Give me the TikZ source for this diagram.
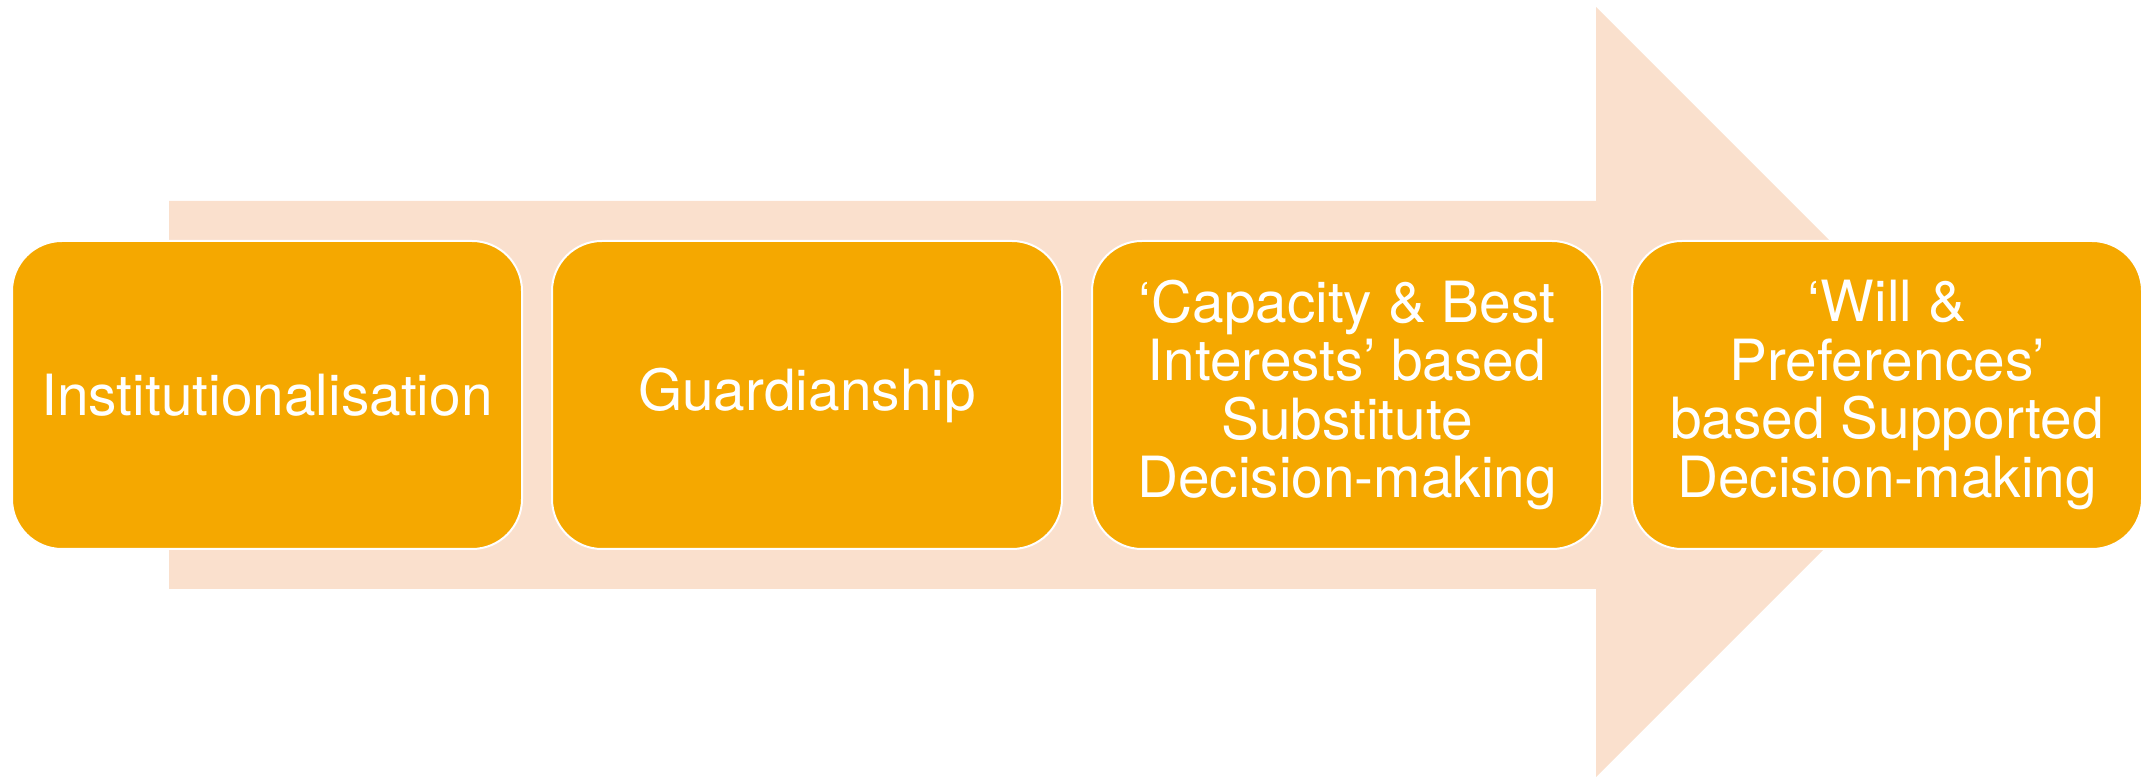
\documentclass[tikz,border=0pt]{standalone}
\usepackage{fontspec}
\setmainfont{TeX Gyre Heros}
\usepackage{tikz}
\definecolor{stageorange}{RGB}{245,168,0}
\definecolor{arrowpeach}{RGB}{250,224,205}
\tikzset{%
    stagebox/.style={draw=white, line width=2pt, fill=stageorange, rounded corners=50pt,
      minimum width=510pt, minimum height=308pt, inner sep=0pt, align=center,
      text=white, font=\fontsize{56.8}{58.5}\selectfont}
}

\begin{document}
\begin{tikzpicture}[x=1pt, y=1pt]
  \useasboundingbox (0,0) rectangle (2154,778);

  \fill[arrowpeach] (169,189) -- (1596,189) -- (1596,1) -- (1981,386)
    -- (1596,771) -- (1596,577) -- (169,577) -- cycle;

  \node[stagebox] (inst) at (267,383) {Institutionalisation};
  \node[stagebox] (guard) at (807,383) {Guardianship};
  \node[stagebox] (subst) at (1347,383) {‘Capacity \& Best\\Interests’ based\\Substitute\\Decision-making};
  \node[stagebox] (supp) at (1887,383) {‘Will \&\\Preferences’\\based Supported\\Decision-making};
\end{tikzpicture}
\end{document}
